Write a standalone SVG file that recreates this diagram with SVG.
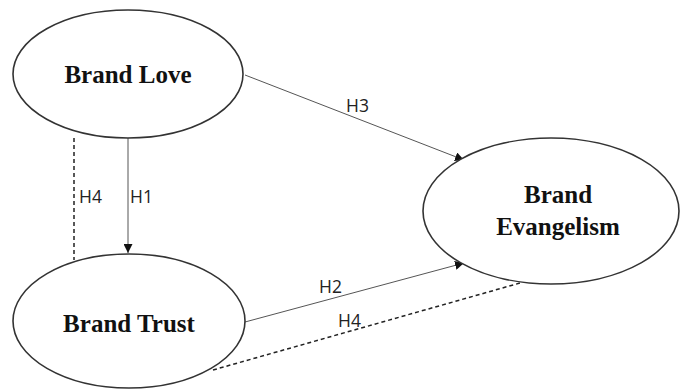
<svg xmlns="http://www.w3.org/2000/svg" width="681" height="391" viewBox="0 0 681 391">
<style>
.node ellipse{fill:#fff;stroke:#333;stroke-width:1.6}
.node text{font-family:"Liberation Serif","Times New Roman",serif;font-weight:bold;font-size:25px;fill:#111;text-anchor:middle}
.edge{stroke:#555;stroke-width:1;fill:none}
.dash{stroke:#222;stroke-width:1.5;fill:none;stroke-dasharray:4 3}
.lbl{font-family:"Open Sans","Noto Sans",sans-serif;font-size:17.5px;fill:#222}
</style>
<defs>
<marker id="arr" viewBox="0 0 10 10" refX="10" refY="5" markerWidth="9" markerHeight="9" markerUnits="userSpaceOnUse" orient="auto">
<path d="M0,0 L10,5 L0,10 z" fill="#111"/>
</marker>
</defs>
<rect width="681" height="391" fill="#fff"/>
<g id="connectors">
<line class="edge" x1="128" y1="138" x2="128" y2="253" marker-end="url(#arr)"/>
<line class="dash" x1="74" y1="138" x2="74" y2="260"/>
<line class="edge" x1="245" y1="75" x2="464" y2="160" marker-end="url(#arr)"/>
<line class="edge" x1="245" y1="322" x2="464" y2="263" marker-end="url(#arr)"/>
<line class="dash" x1="213" y1="370" x2="520" y2="283"/>
<text class="lbl" x="79" y="203">H4</text>
<text class="lbl" x="130" y="203">H1</text>
<text class="lbl" x="346" y="112">H3</text>
<text class="lbl" x="319" y="293">H2</text>
<text class="lbl" x="338" y="327">H4</text>
</g>
<g id="brand-love" class="node">
<ellipse cx="128" cy="74" rx="115" ry="64"/>
<text x="128" y="83">Brand Love</text>
</g>
<g id="brand-trust" class="node">
<ellipse cx="129" cy="321" rx="116" ry="67"/>
<text x="129" y="332">Brand Trust</text>
</g>
<g id="brand-evangelism" class="node">
<ellipse cx="551" cy="211" rx="128" ry="73"/>
<text x="558" y="203">Brand</text>
<text x="558" y="235">Evangelism</text>
</g>
</svg>
